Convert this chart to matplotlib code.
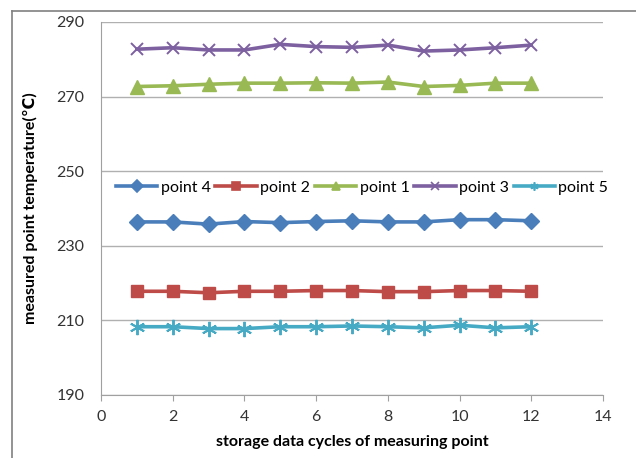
import matplotlib.pyplot as plt
from matplotlib.lines import Line2D

plt.rcParams['font.family'] = ['Lato', 'DejaVu Sans']

cycles = [1, 2, 3, 4, 5, 6, 7, 8, 9, 10, 11, 12]

point4 = [236.4, 236.4, 235.8, 236.5, 236.2, 236.5, 236.7, 236.4, 236.4, 237.0, 237.0, 236.7]
point2 = [217.8, 217.8, 217.4, 217.8, 217.8, 218.0, 218.0, 217.7, 217.7, 218.0, 218.0, 217.8]
point1 = [272.7, 272.9, 273.3, 273.6, 273.6, 273.7, 273.6, 273.9, 272.7, 273.0, 273.6, 273.6]
point3 = [282.7, 283.1, 282.5, 282.5, 284.0, 283.4, 283.2, 283.8, 282.2, 282.5, 283.1, 283.8]
point5 = [208.3, 208.3, 207.8, 207.8, 208.3, 208.3, 208.5, 208.3, 208.0, 208.7, 208.0, 208.3]

fig = plt.figure(figsize=(6.36, 4.58), dpi=100)
ax = fig.add_axes([0.1588, 0.1376, 0.7893, 0.8144])

ax.plot(cycles, point4, color='#4a7ebb', lw=2.6, marker='D', ms=8, label='point 4')
ax.plot(cycles, point2, color='#be4b48', lw=2.6, marker='s', ms=9, label='point 2')
ax.plot(cycles, point1, color='#98b954', lw=2.6, marker='^', ms=10, label='point 1')
ax.plot(cycles, point3, color='#7d60a0', lw=2.6, marker='x', ms=9, mew=1.4, label='point 3')
ax.plot(cycles, point5, color='#46aac5', lw=2.6, marker=(6, 2, 0), ms=11, mew=1.4, label='point 5')

ax.set_xlim(0, 14)
ax.set_ylim(190, 290)
ax.set_xticks(range(0, 15, 2))
ax.set_yticks(range(190, 291, 20))
ax.yaxis.grid(True, color='#b0b0b0', lw=1)
ax.set_axisbelow(True)
for s in ['top', 'right']:
    ax.spines[s].set_visible(False)
for s in ['left', 'bottom']:
    ax.spines[s].set_color('#a0a0a0')
ax.tick_params(axis='y', length=0, pad=12, labelsize=11.5, colors='#333333')
ax.tick_params(axis='x', length=4, color='#a0a0a0', pad=7, labelsize=11.5, labelcolor='#333333')

ax.set_xlabel('storage data cycles of measuring point', fontsize=11.5, fontweight='bold', labelpad=8)
ax.set_ylabel('measured point temperature(\u2103)', fontsize=11.5, fontweight='bold', labelpad=13)

handles = [Line2D([], [], color=l.get_color(), lw=2.6, marker=l.get_marker(), ms=6, mew=1.2)
           for l in ax.get_lines()]
ax.legend(handles, [l.get_label() for l in ax.get_lines()], loc='center', bbox_to_anchor=(0.52, 0.555),
          ncol=5, frameon=False, fontsize=11.5, handlelength=2.6, handletextpad=0.2, columnspacing=0.3)

# outer frame
fig.add_artist(Line2D([12 / 636, 1], [1 - 11 / 458, 1 - 11 / 458], color='#808080', lw=1.2))
fig.add_artist(Line2D([12 / 636, 12 / 636], [0, 1 - 11 / 458], color='#808080', lw=1.2))

fig.savefig('out.png', dpi=100)
